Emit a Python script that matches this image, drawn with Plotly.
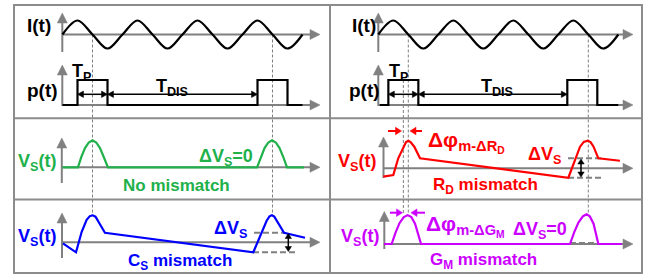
import math
import plotly.graph_objects as go

W, H = 655, 275

# ---------------- data (time in quarter periods of I(t), normalised amplitudes) -------------
i_t = [0, 1, 2, 3, 4, 5, 6, 7, 8, 9, 10, 11, 12, 13, 14, 15, 16]
i_v = [0, 1, 0, -1, 0, 1, 0, -1, 0, 1, 0, -1, 0, 1, 0, -1, 0]

p_left_t = [0, 1, 3, 13, 15, 16]
p_left_v = [0, 1, 0, 1, 0, 0]
p_right_t = [0.1, 0.67, 2.67, 12.6, 14.6, 16]
p_right_v = [0, 1, 0, 1, 0, 0]

vs_none_t = [0, 1.03, 1.25, 1.5, 1.75, 2.0, 2.25, 2.5, 2.75, 3.03, 12.97, 13.22, 13.47, 13.72, 13.97, 14.22, 14.47, 14.72, 14.97, 16.1]
vs_none_v = [0, 0, 0.38, 0.71, 0.92, 1.0, 0.92, 0.71, 0.38, 0, 0, 0.38, 0.71, 0.92, 1.0, 0.92, 0.71, 0.38, 0, 0]

vs_cs_t = [0.03, 0.9, 1.28, 1.61, 1.82, 2.01, 2.2, 2.39, 2.83, 12.72, 13.28, 13.61, 13.8, 13.95, 14.12, 14.32, 14.77, 16.17]
vs_cs_v = [-0.04, -0.37, 0.39, 0.83, 0.97, 1.0, 0.95, 0.76, 0.355, -0.37, 0.33, 0.8, 0.96, 1.0, 0.95, 0.76, 0.355, 0.17]

vs_rd_t = [0.33, 1.0, 1.33, 1.67, 1.85, 2.0, 2.15, 2.4, 2.78, 12.67, 13.1, 13.45, 13.7, 13.96, 14.15, 14.35, 14.67, 16.11]
vs_rd_v = [-0.31, -0.25, 0.37, 0.8, 0.97, 1.02, 0.97, 0.8, 0.37, -0.35, 0.25, 0.8, 0.98, 1.02, 0.97, 0.8, 0.37, 0.28]

vs_gm_t = [0.38, 0.89, 1.15, 1.42, 1.7, 1.96, 2.2, 2.45, 2.85, 12.78, 13.05, 13.35, 13.65, 13.89, 14.1, 14.35, 14.67, 16.23]
vs_gm_v = [0, 0, 0.42, 0.78, 1.0, 1.07, 1.0, 0.75, 0, 0, 0.42, 0.8, 1.03, 1.1, 1.03, 0.75, 0, 0]

# ---------------- geometry (pixels) ----------------
X0_L, X0_R, XS = 62.5, 378.3, 15.0          # time origin / px per unit
Y_I, S_I = 34.5, 14.0
Y_P, S_P = 105.0, 25.0
Y_G, Y_B, Y_R, Y_M, S_V = 167.3, 242.3, 168.3, 244.0, 27.0

GREEN, BLUE, RED, MAG = "#20b14b", "#0000ff", "#ff0000", "#cc00ff"
AX, BORDER = "#808080", "#8c8c8c"
FONT = "Liberation Sans"


def xr(o):
    return [(0 - o) / XS, (W - o) / XS]


def yr(b, s):
    return [(b - H) / s, b / s]


def tl(t):
    return X0_L + XS * t


def trr(t):
    return X0_R + XS * t


fx = lambda x: x / W
fy = lambda y: 1 - y / H

shapes, annos = [], []


def line(x0, y0, x1, y1, color=AX, w=2, dash=None, layer="below"):
    d = dict(type="line", xref="paper", yref="paper", x0=fx(x0), y0=fy(y0), x1=fx(x1), y1=fy(y1),
             line=dict(color=color, width=w), layer=layer)
    if dash:
        d["line"]["dash"] = dash
    shapes.append(d)


def head(xt, yt, ux, uy, color, hl, hw, layer):
    bx, by = xt - ux * hl, yt - uy * hl
    px_, py_ = -uy, ux
    pts = [(xt, yt), (bx + px_ * hw, by + py_ * hw), (bx - px_ * hw, by - py_ * hw)]
    path = "M" + " L".join(f"{fx(a):.5f},{fy(b):.5f}" for a, b in pts) + " Z"
    shapes.append(dict(type="path", xref="paper", yref="paper", path=path, fillcolor=color,
                       line=dict(color=color, width=0.5), layer=layer))


def arrow(x0, y0, x1, y1, color=AX, w=2, hl=10, hw=5, both=False, layer="below"):
    dx, dy = x1 - x0, y1 - y0
    L = math.hypot(dx, dy)
    ux, uy = dx / L, dy / L
    sx, sy = (x0 + ux * (hl - 1), y0 + uy * (hl - 1)) if both else (x0, y0)
    line(sx, sy, x1 - ux * (hl - 1), y1 - uy * (hl - 1), color, w, layer=layer)
    head(x1, y1, ux, uy, color, hl, hw, layer)
    if both:
        head(x0, y0, -ux, -uy, color, hl, hw, layer)


def text(x, y, s, color="black", size=18, xanchor="center"):
    annos.append(dict(x=fx(x), y=fy(y), xref="paper", yref="paper", text=s, showarrow=False,
                      xanchor=xanchor, yanchor="middle",
                      font=dict(family=FONT, size=size, color=color, weight="bold")))


# ---------------- frame ----------------
line(14, 5, 642, 5, BORDER, 2)
line(14, 273, 642, 273, BORDER, 2)
line(14, 4, 14, 274, BORDER, 2)
line(642, 4, 642, 274, BORDER, 2)
line(330, 4, 330, 274, BORDER, 2)
line(14, 118.3, 642, 118.3, BORDER, 2)
line(14, 199.5, 642, 199.5, BORDER, 2)

# ---------------- dashed guides ----------------
for x in (tl(2), tl(14)):
    line(x, Y_I, x, 215, AX, 1, dash="3px,2px")
line(trr(2), Y_I, trr(2), 213, AX, 1, dash="3px,2px")
line(trr(14), Y_I, trr(14), 213, AX, 1, dash="3px,2px")
pc = (p_right_t[1] + p_right_t[2]) / 2
line(trr(pc), 80, trr(pc), 213, AX, 1, dash="3px,2px")

# ---------------- grey axes ----------------
for xo in (X0_L - 0.2, X0_R):
    arrow(xo, 52, xo, 13)
    arrow(xo, Y_I, 320 if xo < 300 else 633, Y_I)
    arrow(xo, 106, xo, 65)
    arrow(xo, Y_P, 320 if xo < 300 else 633, Y_P)
arrow(61.8, 183, 61.8, 138); arrow(61.8, Y_G, 320, Y_G)
arrow(62.0, 258, 62.0, 213); arrow(62.0, Y_B, 320, Y_B)
arrow(383.5, 178, 383.5, 137); arrow(383.5, Y_R, 633, Y_R)
arrow(384.3, 249, 384.3, 211.5); arrow(384.3, Y_M, 633, Y_M)

# ---------------- delta-V markers ----------------
line(254, 232.7, 284, 232.7, AX, 2, dash="6px,3px")
line(253, 252.3, 298, 252.3, AX, 2, dash="6px,3px")
arrow(288.3, 233.5, 288.3, 251.5, "black", 1.5, hl=5, hw=3.2, both=True, layer="above")
line(568, 158.3, 602, 158.3, AX, 2, dash="6px,3px")
line(568, 177.7, 603, 177.7, AX, 2, dash="6px,3px")
arrow(581, 159, 581, 177, "black", 1.5, hl=5, hw=3.2, both=True, layer="above")
line(570, 243, 598, 243, AX, 2, dash="6px,3px")

# ---------------- T_P / T_DIS arrows ----------------
arrow(tl(p_left_t[1]), 94.3, tl(p_left_t[2]), 94.3, "black", 1.5, hl=6, hw=3.2, both=True, layer="above")
arrow(tl(p_left_t[2]), 94.3, tl(p_left_t[3]), 94.3, "black", 1.5, hl=6, hw=3.2, both=True, layer="above")
arrow(trr(p_right_t[1]), 94.3, trr(p_right_t[2]), 94.3, "black", 1.5, hl=6, hw=3.2, both=True, layer="above")
arrow(trr(p_right_t[2]), 94.3, trr(p_right_t[3]), 94.3, "black", 1.5, hl=6, hw=3.2, both=True, layer="above")

# ---------------- phase arrows ----------------
arrow(388, 131, 401.5, 131, RED, 2, hl=6, hw=3.8, layer="above")
arrow(422, 131, 410, 131, RED, 2, hl=6, hw=3.8, layer="above")
arrow(390, 212.7, 402.5, 212.7, MAG, 2, hl=6, hw=3.8, layer="above")
arrow(425, 212.7, 411, 212.7, MAG, 2, hl=6, hw=3.8, layer="above")

# ---------------- waveforms ----------------
fig = go.Figure()
lw = 2.2
fig.add_trace(go.Scatter(x=i_t, y=i_v, xaxis="x", yaxis="y", mode="lines",
                         line=dict(color="black", width=lw, shape="spline", smoothing=1.0)))
fig.add_trace(go.Scatter(x=i_t, y=i_v, xaxis="x2", yaxis="y", mode="lines",
                         line=dict(color="black", width=lw, shape="spline", smoothing=1.0)))
fig.add_trace(go.Scatter(x=p_left_t, y=p_left_v, xaxis="x", yaxis="y2", mode="lines",
                         line=dict(color="black", width=lw, shape="hv")))
fig.add_trace(go.Scatter(x=p_right_t, y=p_right_v, xaxis="x2", yaxis="y2", mode="lines",
                         line=dict(color="black", width=lw, shape="hv")))
fig.add_trace(go.Scatter(x=vs_none_t, y=vs_none_v, xaxis="x", yaxis="y3", mode="lines",
                         line=dict(color=GREEN, width=lw)))
fig.add_trace(go.Scatter(x=vs_cs_t, y=vs_cs_v, xaxis="x", yaxis="y4", mode="lines",
                         line=dict(color=BLUE, width=lw)))
fig.add_trace(go.Scatter(x=vs_rd_t, y=vs_rd_v, xaxis="x2", yaxis="y5", mode="lines",
                         line=dict(color=RED, width=lw)))
fig.add_trace(go.Scatter(x=vs_gm_t, y=vs_gm_v, xaxis="x2", yaxis="y6", mode="lines",
                         line=dict(color=MAG, width=lw)))

# ---------------- labels ----------------
text(39, 25, "I(t)", size=19)
text(42, 90, "p(t)", size=19)
text(81, 73, "T<sub>P</sub>", size=18)
text(172, 87.5, "T<sub>DIS</sub>", size=18)
text(37, 162, "V<sub>S</sub>(t)", GREEN)
text(255, 157, "ΔV<sub>S</sub>=0", GREEN, xanchor="right")
text(177, 185.5, "No mismatch", GREEN, size=17)
text(37, 237, "V<sub>S</sub>(t)", BLUE)
text(249, 229.5, "ΔV<sub>S</sub>", BLUE, xanchor="right")
text(180, 262, "C<sub>S</sub> mismatch", BLUE, size=17)

text(364, 25, "I(t)", size=19)
text(364, 90, "p(t)", size=19)
text(398, 73, "T<sub>P</sub>", size=18)
text(497, 87.5, "T<sub>DIS</sub>", size=18)
text(356.5, 162, "V<sub>S</sub>(t)", RED)
text(426, 142, "Δφ<sub>m-ΔR<sub>D</sub></sub>", RED, size=21, xanchor="left")
text(562.5, 155.5, "ΔV<sub>S</sub>", RED, xanchor="right")
text(485, 185.5, "R<sub>D</sub> mismatch", RED, size=17)
text(360, 237, "V<sub>S</sub>(t)", MAG)
text(424, 225.5, "Δφ<sub>m-ΔG<sub>M</sub></sub>", MAG, size=21, xanchor="left")
text(568.5, 230.5, "ΔV<sub>S</sub>=0", MAG, xanchor="right")
text(483, 261, "G<sub>M</sub> mismatch", MAG, size=17)

hid = dict(visible=False, fixedrange=True, domain=[0, 1])
fig.update_layout(
    width=W, height=H, margin=dict(l=0, r=0, t=0, b=0), showlegend=False,
    paper_bgcolor="white", plot_bgcolor="rgba(0,0,0,0)",
    xaxis=dict(range=xr(X0_L), **hid),
    xaxis2=dict(range=xr(X0_R), overlaying="x", **hid),
    yaxis=dict(range=yr(Y_I, S_I), **hid),
    yaxis2=dict(range=yr(Y_P, S_P), overlaying="y", **hid),
    yaxis3=dict(range=yr(Y_G, S_V), overlaying="y", **hid),
    yaxis4=dict(range=yr(Y_B, S_V), overlaying="y", **hid),
    yaxis5=dict(range=yr(Y_R, S_V), overlaying="y", **hid),
    yaxis6=dict(range=yr(Y_M, S_V), overlaying="y", **hid),
    shapes=shapes, annotations=annos,
)
fig.write_html("out.html", config=dict(staticPlot=True),
               post_script="document.body.style.margin='0';document.body.style.padding='0';")
